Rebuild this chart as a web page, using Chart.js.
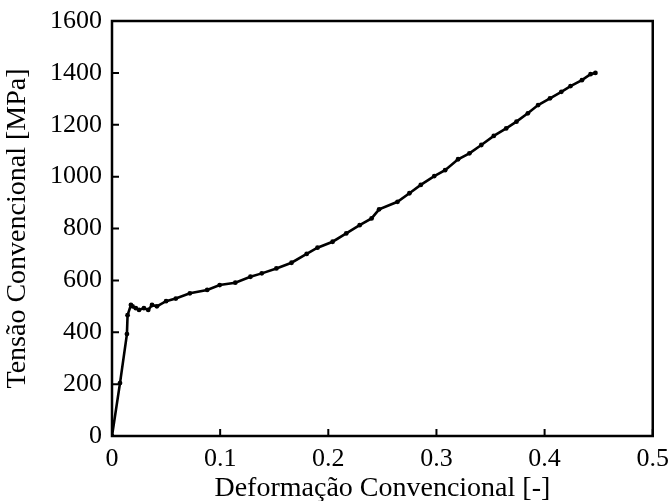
<!DOCTYPE html>
<html>
<head>
<meta charset="utf-8">
<script src="https://cdn.jsdelivr.net/npm/chart.js@4"></script>
<style>
  html, body { margin: 0; padding: 0; background: #fff; }
  #wrap { width: 669px; height: 501px; }
</style>
</head>
<body>
<div id="wrap"><canvas id="curveChart"></canvas></div>
<script>
// Curva tensão-deformação
var strain = [0, 0.0074, 0.0138, 0.0144, 0.0175, 0.019, 0.022, 0.025, 0.0295, 0.0335, 0.037, 0.0415,
    0.05, 0.059, 0.072, 0.088, 0.0996, 0.114, 0.128, 0.1385, 0.152, 0.166, 0.18, 0.19, 0.204, 0.2166,
    0.229, 0.24, 0.247, 0.264, 0.275, 0.2855, 0.298, 0.308, 0.32, 0.3305, 0.3415, 0.353, 0.3645,
    0.374, 0.3845, 0.394, 0.405, 0.4155, 0.424, 0.4345, 0.4425, 0.447];
var stress = [0, 204, 393, 466, 505, 500, 493, 486, 493, 486, 505, 500,
    520, 530, 550, 563, 582, 591, 614, 627, 646, 668, 702, 726, 749, 781,
    813, 839, 874, 903, 936, 968, 1002, 1025, 1067, 1090, 1122, 1157, 1186,
    1212, 1244, 1276, 1302, 1327, 1349, 1372, 1395, 1400];
var xTicks = ['0', '0.1', '0.2', '0.3', '0.4', '0.5'];
var yTicks = ['0', '200', '400', '600', '800', '1000', '1200', '1400', '1600'];

var points = strain.map(function (x, i) { return {x: x, y: stress[i]}; });

// moldura e marcas para dentro
var framePlugin = {
    id: 'frame',
    afterDraw: function (chart) {
        var ctx = chart.ctx, a = chart.chartArea;
        var xs = chart.scales.x, ys = chart.scales.y;
        ctx.save();
        ctx.strokeStyle = '#000';
        ctx.lineWidth = 2.5;
        ctx.strokeRect(a.left, a.top, a.right - a.left, a.bottom - a.top);
        ctx.lineWidth = 2;
        ctx.beginPath();
        xs.ticks.forEach(function (t) {
            var px = xs.getPixelForValue(t.value);
            ctx.moveTo(px, a.bottom);
            ctx.lineTo(px, a.bottom - 7);
        });
        ys.ticks.forEach(function (t) {
            var py = ys.getPixelForValue(t.value);
            ctx.moveTo(a.left, py);
            ctx.lineTo(a.left + 7, py);
        });
        ctx.stroke();
        ctx.restore();
    }
};

var tickFont = { family: 'Liberation Serif', size: 26 };
var titleFont = { family: 'Liberation Serif', size: 28, lineHeight: 0.9 };

var curveChart = new Chart(document.getElementById('curveChart'), {
    type: 'scatter',
    data: {
        datasets: [{
            data: points,
            showLine: true,
            borderColor: '#000',
            backgroundColor: '#000',
            borderWidth: 2.6,
            pointRadius: 2.4,
            pointBorderWidth: 0,
            tension: 0
        }]
    },
    options: {
        responsive: true,
        maintainAspectRatio: false,
        animation: false,
        layout: { padding: { top: 21, right: 14, left: 0, bottom: 0 } },
        plugins: { legend: { display: false }, tooltip: { enabled: false } },
        scales: {
            x: {
                type: 'linear',
                min: 0,
                max: 0.5,
                afterFit: function (s) { s.height = 65; },
                grid: { display: false },
                border: { display: false },
                ticks: {
                    stepSize: 0.1,
                    padding: 0,
                    color: '#000',
                    font: tickFont,
                    callback: function (v, i) { return xTicks[i]; }
                },
                title: {
                    display: true,
                    text: 'Deformação Convencional [-]',
                    color: '#000',
                    font: titleFont,
                    padding: { top: 0, bottom: 0 }
                }
            },
            y: {
                min: 0,
                max: 1600,
                afterFit: function (s) { s.width = 112; },
                grid: { display: false },
                border: { display: false },
                ticks: {
                    stepSize: 200,
                    padding: 2,
                    color: '#000',
                    font: tickFont,
                    callback: function (v, i) { return yTicks[i]; }
                },
                title: {
                    display: true,
                    text: 'Tensão Convencional [MPa]',
                    color: '#000',
                    font: titleFont,
                    padding: { top: 5, bottom: 0 }
                }
            }
        }
    },
    plugins: [framePlugin]
});
</script>
</body>
</html>
